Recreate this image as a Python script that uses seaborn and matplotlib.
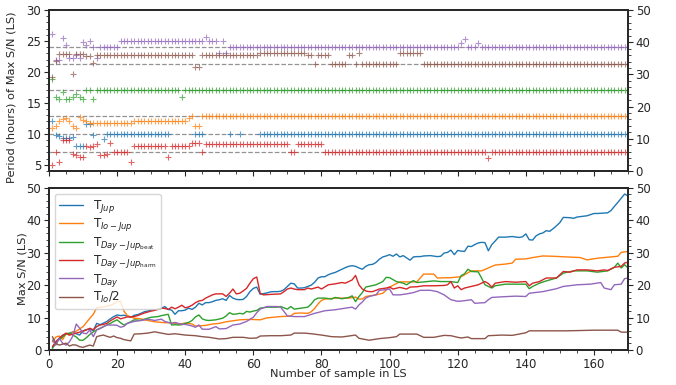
import numpy as np
import matplotlib
matplotlib.use("Agg")
import matplotlib.pyplot as plt
from matplotlib.ticker import AutoMinorLocator, MultipleLocator
import seaborn as sns

N = np.nan

# ---------------- data ----------------
sample = np.arange(1, 171)  # sample index in LS (1..170)

series_labels = [r'T$_{Jup}$', r'T$_{Io-Jup}$', r'T$_{Day-Jup_{\rm beat}}$',
                 r'T$_{Day-Jup_{\rm harm}}$', r'T$_{Day}$', r'T$_{Io}$/2']
ref_periods = [9.9, 12.9, 17.0, 7.0, 24.0, 21.3]   # dashed reference lines (hours)

# Period (hours) of max S/N, per sample 1..170
per_jup = [12.0, 9.8, 9.7, 9.4, 9.4, 9.4, 9.5, 8.1, 8.0, 8.0,
           11.6, 11.6, 9.8, N, N, 9.1, 9.9, 9.9, 9.9, 9.9,
           9.9, 9.9, 9.9, 9.9, 9.9, 9.9, 9.9, 9.9, 9.9, 9.9,
           9.9, 9.9, 9.9, 9.9, 9.9, N, N, N, N, N,
           N, N, 9.9, 9.9, 9.9, N, N, N, N, N,
           N, N, 9.9, N, N, 9.9, N, N, N, N,
           N, 9.9, 9.9, 9.9, 9.9, 9.9, 9.9, 9.9, 9.9, 9.9,
           9.9, 9.9, 9.9, 9.9, 9.9, 9.9, 9.9, 9.9, 9.9, 9.9,
           9.9, 9.9, 9.9, 9.9, 9.9, 9.9, 9.9, 9.9, 9.9, 9.9,
           9.9, 9.9, 9.9, 9.9, 9.9, 9.9, 9.9, 9.9, 9.9, 9.9,
           9.9, 9.9, 9.9, 9.9, 9.9, 9.9, 9.9, 9.9, 9.9, 9.9,
           9.9, 9.9, 9.9, 9.9, 9.9, 9.9, 9.9, 9.9, 9.9, 9.9,
           9.9, 9.9, 9.9, 9.9, 9.9, 9.9, 9.9, 9.9, 9.9, 9.9,
           9.9, 9.9, 9.9, 9.9, 9.9, 9.9, 9.9, 9.9, 9.9, 9.9,
           9.9, 9.9, 9.9, 9.9, 9.9, 9.9, 9.9, 9.9, 9.9, 9.9,
           9.9, 9.9, 9.9, 9.9, 9.9, 9.9, 9.9, 9.9, 9.9, 9.9,
           9.9, 9.9, 9.9, 9.9, 9.9, 9.9, 9.9, 9.9, 9.9, 9.9]

per_iojup = [10.9, 11.2, 12.1, 12.4, 12.6, 12.0, 11.2, 11.0, 12.7, 12.3,
             12.1, 11.7, 11.7, 11.7, 11.7, 11.7, 11.7, 11.7, 11.7, 11.7,
             11.7, 11.7, 11.7, 11.7, 12.1, 12.1, 12.1, 12.1, 12.1, 12.1,
             12.1, 12.1, 12.1, 12.1, 12.1, 12.1, 12.1, 12.1, 12.1, 12.1,
             12.5, 12.9, 11.2, 11.2, 12.9, 12.9, 12.9, 12.9, 12.9, 12.9,
             12.9, 12.9, 12.9, 12.9, 12.9, 12.9, 12.9, 12.9, 12.9, 12.9,
             12.9, 12.9, 12.9, 12.9, 12.9, 12.9, 12.9, 12.9, 12.9, 12.9,
             12.9, 12.9, 12.9, 12.9, 12.9, 12.9, 12.9, 12.9, 12.9, 12.9,
             12.9, 12.9, 12.9, 12.9, 12.9, 12.9, 12.9, 12.9, 12.9, 12.9,
             12.9, 12.9, 12.9, 12.9, 12.9, 12.9, 12.9, 12.9, 12.9, 12.9,
             12.9, 12.9, 12.9, 12.9, 12.9, 12.9, 12.9, 12.9, 12.9, 12.9,
             12.9, 12.9, 12.9, 12.9, 12.9, 12.9, 12.9, 12.9, 12.9, 12.9,
             12.9, 12.9, 12.9, 12.9, 12.9, 12.9, 12.9, 12.9, 12.9, 12.9,
             12.9, 12.9, 12.9, 12.9, 12.9, 12.9, 12.9, 12.9, 12.9, 12.9,
             12.9, 12.9, 12.9, 12.9, 12.9, 12.9, 12.9, 12.9, 12.9, 12.9,
             12.9, 12.9, 12.9, 12.9, 12.9, 12.9, 12.9, 12.9, 12.9, 12.9,
             12.9, 12.9, 12.9, 12.9, 12.9, 12.9, 12.9, 12.9, 12.9, 12.9]

per_beat = [18.9, 16.0, 15.6, 16.7, 15.6, 15.6, 16.0, 16.4, 16.0, 15.6,
            17.0, 17.0, 15.7, 17.0, 17.0, 17.0, 17.0, 17.0, 17.0, 17.0,
            17.0, 17.0, 17.0, 17.0, 17.0, 17.0, 17.0, 17.0, 17.0, 17.0,
            17.0, 17.0, 17.0, 17.0, 17.0, 17.0, 17.0, 17.0, 15.9, 17.0,
            17.0, 17.0, 17.0, 17.0, 17.0, 17.0, 17.0, 17.0, 17.0, 17.0,
            17.0, 17.0, 17.0, 17.0, 17.0, 17.0, 17.0, 17.0, 17.0, 17.0,
            17.0, 17.0, 17.0, 17.0, 17.0, 17.0, 17.0, 17.0, 17.0, 17.0,
            17.0, 17.0, 17.0, 17.0, 17.0, 17.0, 17.0, 17.0, 17.0, 17.0,
            17.0, 17.0, 17.0, 17.0, 17.0, 17.0, 17.0, 17.0, 17.0, 17.0,
            17.0, 17.0, 17.0, 17.0, 17.0, 17.0, 17.0, 17.0, 17.0, 17.0,
            17.0, 17.0, 17.0, 17.0, 17.0, 17.0, 17.0, 17.0, 17.0, 17.0,
            17.0, 17.0, 17.0, 17.0, 17.0, 17.0, 17.0, 17.0, 17.0, 17.0,
            17.0, 17.0, 17.0, 17.0, 17.0, 17.0, 17.0, 17.0, 17.0, 17.0,
            17.0, 17.0, 17.0, 17.0, 17.0, 17.0, 17.0, 17.0, 17.0, 17.0,
            17.0, 17.0, 17.0, 17.0, 17.0, 17.0, 17.0, 17.0, 17.0, 17.0,
            17.0, 17.0, 17.0, 17.0, 17.0, 17.0, 17.0, 17.0, 17.0, 17.0,
            17.0, 17.0, 17.0, 17.0, 17.0, 17.0, 17.0, 17.0, 17.0, 17.0]

per_harm = [5.0, 7.1, 5.5, 9.0, 9.0, 9.0, 6.7, 6.6, 6.2, 6.2,
            8.1, 7.8, 8.1, 8.4, 6.6, 6.6, 6.7, 8.5, 7.0, 7.0,
            7.0, 7.0, 7.0, 5.5, 8.1, 8.1, 8.1, 8.1, 8.1, 8.1,
            8.1, 8.1, 8.1, 8.1, 6.3, 8.1, 8.1, 8.1, 8.1, 8.1,
            8.1, 8.5, 8.5, 8.5, 7.0, 8.4, 8.4, 8.4, 8.4, 8.4,
            8.4, 8.4, 8.4, 8.4, 8.4, 8.4, 8.4, 8.4, 8.4, 8.4,
            8.4, 8.4, 8.4, 8.4, 8.4, 8.4, 8.4, 8.4, 8.4, 8.4,
            7.0, 7.0, 8.4, 8.4, 8.4, 8.4, 8.4, 8.4, 8.4, 8.4,
            7.0, 7.0, 7.0, 7.0, 7.0, 7.0, 7.0, 7.0, 7.0, 7.0,
            7.0, 7.0, 7.0, 7.0, 7.0, 7.0, 7.0, 7.0, 7.0, 7.0,
            7.0, 7.0, 7.0, 7.0, 7.0, 7.0, 7.0, 7.0, 7.0, 7.0,
            7.0, 7.0, 7.0, 7.0, 7.0, 7.0, 7.0, 7.0, 7.0, 7.0,
            7.0, 7.0, 7.0, 7.0, 7.0, 7.0, 7.0, 7.0, 6.1, 7.0,
            7.0, 7.0, 7.0, 7.0, 7.0, 7.0, 7.0, 7.0, 7.0, 7.0,
            7.0, 7.0, 7.0, 7.0, 7.0, 7.0, 7.0, 7.0, 7.0, 7.0,
            7.0, 7.0, 7.0, 7.0, 7.0, 7.0, 7.0, 7.0, 7.0, 7.0,
            7.0, 7.0, 7.0, 7.0, 7.0, 7.0, 7.0, 7.0, 7.0, 7.0]

per_day = [26.1, 21.9, 22.0, 25.4, 24.4, 22.2, 22.2, 22.7, 22.2, 24.9,
           24.4, 25.0, 24.0, 22.3, 24.0, 24.0, 24.0, 24.0, 24.0, 24.0,
           25.0, 25.0, 25.0, 25.0, 25.0, 25.0, 25.0, 25.0, 25.0, 25.0,
           25.0, 25.0, 25.0, 25.0, 25.0, 25.0, 25.0, 25.0, 25.0, 25.0,
           25.0, 25.0, 25.0, 25.0, 25.0, 25.7, 25.0, 25.0, 25.0, 23.0,
           25.0, 23.0, 24.0, 24.0, 24.0, 24.0, 24.0, 24.0, 24.0, 24.0,
           24.0, 24.0, 24.0, 24.0, 24.0, 24.0, 24.0, 24.0, 24.0, 24.0,
           24.0, 24.0, 24.0, 24.0, 24.0, 24.0, 24.0, 24.0, 24.0, 24.0,
           24.0, 24.0, 24.0, 24.0, 24.0, 24.0, 24.0, 24.0, 24.0, 24.0,
           24.0, 24.0, 24.0, 24.0, 24.0, 24.0, 24.0, 24.0, 24.0, 24.0,
           24.0, 24.0, 24.0, 24.0, 24.0, 24.0, 24.0, 24.0, 24.0, 24.0,
           24.0, 24.0, 24.0, 24.0, 24.0, 24.0, 24.0, 24.0, 24.0, 24.0,
           24.7, 25.3, 24.0, 24.0, 24.0, 24.7, 24.0, 24.0, 24.0, 24.0,
           24.0, 24.0, 24.0, 24.0, 24.0, 24.0, 24.0, 24.0, 24.0, 24.0,
           24.0, 24.0, 24.0, 24.0, 24.0, 24.0, 24.0, 24.0, 24.0, 24.0,
           24.0, 24.0, 24.0, 24.0, 24.0, 24.0, 24.0, 24.0, 24.0, 24.0,
           24.0, 24.0, 24.0, 24.0, 24.0, 24.0, 24.0, 24.0, 24.0, 24.0]

per_io2 = [19.2, 21.7, 22.9, 22.9, 22.9, 22.9, 19.7, 22.9, 22.9, 22.9,
           22.6, 22.6, 21.4, 22.7, 22.7, 22.7, 22.7, 22.7, 22.7, 22.7,
           22.7, 22.7, 22.7, 22.7, 22.7, 22.7, 22.7, 22.7, 22.7, 22.7,
           22.7, 22.7, 22.7, 22.7, 22.7, 22.7, 22.7, 22.7, 22.7, 22.7,
           22.7, 22.7, 20.8, 20.8, 22.7, 22.7, 22.7, 22.7, 22.7, 22.7,
           22.7, 22.7, 22.7, 22.7, 22.7, 22.7, 22.7, 22.7, 22.7, 22.7,
           22.7, 23.1, 23.1, 23.1, 23.1, 23.1, 23.1, 23.1, 23.1, 23.1,
           23.1, 23.1, 23.1, 23.1, 23.1, 22.7, 22.7, 21.3, 22.7, 22.7,
           22.7, 22.7, 21.3, 21.3, 21.3, 21.3, 21.3, 22.7, 22.7, 21.3,
           23.1, 21.3, 21.3, 21.3, 21.3, 21.3, 21.3, 21.3, 21.3, 21.3,
           21.3, 21.3, 23.1, 23.1, 23.1, 23.1, 23.1, 23.1, 23.1, 21.3,
           21.3, 21.3, 21.3, 21.3, 21.3, 21.3, 21.3, 21.3, 21.3, 21.3,
           21.3, 21.3, 21.3, 21.3, 21.3, 21.3, 21.3, 21.3, 21.3, 21.3,
           21.3, 21.3, 21.3, 21.3, 21.3, 21.3, 21.3, 21.3, 21.3, 21.3,
           21.3, 21.3, 21.3, 21.3, 21.3, 21.3, 21.3, 21.3, 21.3, 21.3,
           21.3, 21.3, 21.3, 21.3, 21.3, 21.3, 21.3, 21.3, 21.3, 21.3,
           21.3, 21.3, 21.3, 21.3, 21.3, 21.3, 21.3, 21.3, 21.3, 21.3]

# Max S/N (LS) as (sample, value) vertices
sn_jup = [(1, 0.8), (2, 2.5), (3, 3.6), (4, 4.5), (6, 5.1), (7, 5.6), (8, 5.0), (9, 4.6),
          (10, 5.9), (11, 6.3), (12, 6.4), (13, 6.0), (14, 8.2), (15, 7.8), (16, 8.3),
          (17, 8.8), (18, 9.6), (19, 10.3), (20, 10.8), (21, 10.6), (22, 10.7), (23, 10.5),
          (24, 10.0), (25, 10.7), (26, 10.9), (27, 11.3), (28, 11.8), (29, 12.0), (30, 12.3),
          (31, 12.4), (32, 12.5), (33, 12.8), (34, 13.4), (35, 12.5), (36, 12.3), (37, 11.0),
          (38, 12.1), (39, 12.1), (40, 12.3), (41, 12.9), (42, 12.5), (43, 13.2), (44, 14.4),
          (45, 13.9), (46, 14.6), (47, 14.6), (48, 14.9), (49, 15.3), (50, 15.5), (51, 15.8),
          (52, 15.3), (53, 16.8), (54, 16.0), (55, 15.6), (56, 15.5), (57, 15.6), (58, 16.5),
          (59, 18.0), (60, 19.0), (61, 19.4), (62, 17.2), (63, 17.4), (64, 17.6), (65, 17.9),
          (66, 18.0), (67, 18.0), (68, 18.1), (69, 18.6), (70, 19.6), (71, 20.6), (72, 20.4),
          (73, 19.1), (74, 19.1), (75, 19.2), (76, 19.6), (77, 20.0), (78, 20.9), (79, 22.2),
          (80, 22.6), (81, 22.6), (82, 23.2), (83, 23.6), (84, 23.9), (85, 24.4), (86, 24.9),
          (87, 25.4), (88, 25.8), (89, 26.0), (90, 25.8), (91, 25.3), (92, 24.9), (93, 25.8),
          (94, 26.3), (95, 26.4), (96, 27.0), (97, 28.0), (98, 28.7), (99, 29.0), (100, 29.4),
          (101, 28.9), (102, 29.6), (103, 28.7), (104, 29.1), (105, 28.4), (106, 27.7),
          (107, 28.7), (108, 28.8), (109, 28.8), (110, 29.0), (112, 29.1), (114, 28.8),
          (115, 28.9), (116, 29.9), (117, 30.1), (118, 30.8), (119, 29.4), (120, 30.7),
          (121, 30.5), (122, 30.4), (123, 32.0), (124, 31.9), (125, 32.5), (126, 33.0),
          (127, 33.2), (128, 33.1), (129, 30.6), (130, 32.5), (131, 33.6), (132, 34.8),
          (134, 34.8), (136, 35.0), (138, 34.7), (139, 34.9), (140, 35.8), (141, 34.0),
          (142, 33.9), (143, 35.2), (144, 35.8), (145, 36.1), (146, 36.8), (147, 36.6),
          (148, 37.4), (149, 38.3), (150, 39.3), (151, 40.9), (153, 40.8), (154, 40.6),
          (155, 41.0), (158, 41.4), (160, 42.1), (161, 42.1), (164, 42.3), (165, 43.0),
          (166, 44.3), (167, 45.5), (168, 46.8), (169, 48.1), (170, 47.5)]

sn_iojup = [(1, 2.5), (2, 4.0), (3, 4.3), (4, 3.2), (5, 5.0), (6, 4.6), (7, 5.5), (8, 5.8),
            (9, 6.5), (10, 7.2), (11, 8.5), (12, 9.8), (13, 11.0), (14, 13.0), (15, 13.2),
            (16, 13.3), (17, 13.5), (18, 13.8), (19, 14.2), (20, 15.0), (21, 15.0), (22, 12.0),
            (23, 10.6), (24, 10.2), (25, 9.8), (26, 9.7), (27, 9.6), (28, 9.3), (29, 9.1),
            (30, 8.9), (31, 8.7), (32, 8.6), (33, 8.5), (34, 8.4), (35, 8.4), (36, 8.3),
            (37, 8.2), (38, 8.0), (39, 8.1), (40, 8.3), (41, 8.2), (42, 8.0), (43, 7.4),
            (44, 7.4), (45, 7.5), (46, 7.6), (48, 8.0), (50, 8.2), (52, 8.7), (54, 9.0),
            (56, 9.3), (58, 9.4), (60, 9.4), (62, 9.3), (64, 9.9), (66, 10.1), (68, 10.3),
            (70, 10.4), (71, 10.5), (72, 11.3), (74, 11.4), (76, 11.3), (77, 11.8), (78, 12.8),
            (79, 14.2), (80, 15.3), (81, 15.7), (84, 16.0), (88, 16.0), (90, 16.3), (91, 15.7),
            (92, 15.7), (93, 16.5), (96, 17.0), (98, 17.5), (100, 19.4), (103, 21.0),
            (108, 21.0), (110, 23.4), (113, 23.4), (114, 22.2), (118, 22.3), (121, 22.6),
            (122, 23.2), (124, 24.4), (127, 24.4), (129, 25.3), (131, 26.2), (134, 26.5),
            (136, 26.8), (137, 28.0), (140, 28.1), (142, 28.5), (145, 29.0), (148, 28.9),
            (152, 28.7), (156, 28.5), (158, 27.8), (161, 28.3), (164, 28.6), (167, 28.9),
            (168, 30.1), (170, 30.4)]

sn_beat = [(1, 0.5), (2, 2.0), (3, 3.3), (4, 4.0), (5, 5.0), (6, 5.2), (7, 4.6), (8, 4.0),
           (9, 3.0), (10, 3.0), (11, 3.8), (12, 4.8), (13, 5.6), (14, 6.2), (15, 6.7),
           (16, 7.2), (17, 7.7), (18, 8.2), (19, 8.8), (20, 9.3), (21, 8.4), (22, 7.7),
           (23, 8.2), (24, 8.7), (25, 9.3), (26, 9.2), (27, 9.1), (28, 9.5), (29, 9.8),
           (30, 10.1), (31, 10.2), (32, 10.3), (33, 10.6), (34, 10.8), (35, 11.0), (36, 7.7),
           (37, 7.8), (38, 7.7), (39, 7.8), (40, 8.2), (41, 8.5), (42, 9.1), (43, 10.2),
           (44, 10.8), (45, 9.6), (46, 9.2), (47, 9.1), (49, 9.3), (51, 9.8), (52, 10.5),
           (53, 11.5), (54, 11.0), (55, 11.1), (56, 11.3), (57, 11.1), (58, 11.9), (59, 11.7),
           (60, 12.0), (61, 12.2), (62, 12.9), (64, 13.2), (67, 13.2), (68, 13.4), (70, 12.6),
           (71, 13.4), (72, 12.6), (74, 12.9), (76, 13.2), (77, 14.2), (78, 15.5), (79, 16.0),
           (81, 16.0), (83, 15.7), (84, 16.2), (86, 15.8), (88, 16.2), (89, 16.7), (90, 14.9),
           (91, 16.5), (92, 17.7), (93, 19.4), (96, 20.1), (98, 21.1), (99, 22.4), (100, 22.3),
           (102, 21.1), (104, 20.6), (105, 20.1), (106, 20.8), (107, 21.4), (108, 20.8),
           (111, 21.1), (113, 21.3), (115, 21.1), (118, 21.1), (120, 20.8), (121, 22.9),
           (122, 23.5), (123, 24.9), (124, 24.2), (126, 24.1), (127, 22.2), (128, 20.1),
           (130, 19.1), (131, 19.8), (134, 20.3), (137, 20.3), (140, 20.3), (141, 18.9),
           (142, 19.6), (144, 20.6), (146, 21.3), (149, 22.2), (151, 23.7), (154, 24.4),
           (158, 24.4), (161, 24.0), (164, 24.4), (166, 25.5), (167, 26.8), (168, 25.3),
           (169, 26.3), (170, 25.3)]

sn_harm = [(1, 1.0), (2, 2.5), (3, 3.6), (4, 4.5), (5, 5.2), (6, 4.6), (7, 4.9), (8, 5.2),
           (9, 5.5), (10, 5.8), (11, 6.2), (12, 6.7), (13, 6.2), (14, 7.2), (15, 7.7),
           (16, 7.9), (17, 8.2), (18, 9.0), (19, 9.6), (20, 10.2), (21, 9.6), (22, 9.9),
           (23, 10.2), (24, 10.2), (25, 10.3), (26, 10.6), (27, 11.0), (28, 11.4), (29, 11.7),
           (30, 12.0), (31, 12.2), (32, 12.6), (33, 12.9), (34, 12.8), (35, 12.5), (36, 13.2),
           (37, 12.7), (38, 13.2), (39, 13.8), (40, 13.0), (41, 13.3), (42, 13.8), (43, 14.6),
           (44, 15.1), (45, 15.3), (46, 16.0), (47, 16.5), (48, 17.0), (49, 17.3), (51, 17.3),
           (52, 16.5), (53, 17.5), (54, 18.8), (55, 17.3), (56, 17.5), (57, 18.2), (58, 19.0),
           (59, 20.6), (60, 22.0), (61, 22.5), (62, 17.5), (63, 17.0), (66, 17.2), (68, 17.3),
           (69, 18.0), (70, 18.8), (71, 19.1), (72, 18.8), (73, 18.6), (75, 18.6), (76, 19.1),
           (77, 18.8), (79, 19.4), (80, 18.8), (82, 20.1), (84, 20.4), (86, 20.8), (87, 20.6),
           (89, 21.6), (90, 23.0), (91, 20.1), (92, 18.8), (93, 18.2), (94, 18.0), (95, 18.0),
           (97, 18.8), (99, 19.1), (100, 19.4), (101, 18.8), (103, 19.3), (105, 18.8),
           (106, 19.4), (108, 19.5), (110, 19.8), (113, 19.8), (116, 19.9), (117, 20.1),
           (118, 21.1), (119, 19.1), (120, 19.8), (121, 18.6), (122, 19.1), (124, 19.6),
           (126, 20.1), (128, 21.1), (129, 20.5), (130, 19.4), (131, 20.6), (134, 21.1),
           (137, 20.9), (140, 21.1), (141, 19.8), (142, 20.6), (144, 21.1), (146, 22.2),
           (149, 22.2), (151, 24.2), (153, 24.0), (155, 24.7), (158, 24.7), (161, 24.4),
           (163, 24.7), (164, 24.5), (166, 25.5), (168, 25.8), (169, 26.8), (170, 27.1)]

sn_day = [(1, 3.1), (2, 1.5), (3, 3.6), (4, 2.1), (5, 1.5), (6, 2.5), (7, 4.3), (8, 8.0),
          (9, 6.7), (10, 5.2), (11, 5.0), (12, 6.2), (13, 4.1), (14, 6.2), (15, 6.6),
          (16, 7.2), (17, 7.7), (18, 7.7), (19, 7.7), (20, 7.6), (21, 7.0), (22, 7.3),
          (23, 8.2), (24, 8.5), (25, 8.8), (27, 9.1), (29, 9.5), (31, 9.1), (33, 9.5),
          (34, 8.8), (36, 8.2), (37, 8.5), (39, 7.9), (40, 7.9), (42, 7.4), (43, 7.0),
          (44, 7.7), (45, 6.4), (47, 6.4), (49, 7.2), (50, 6.5), (52, 6.6), (54, 7.7),
          (56, 8.0), (58, 8.8), (60, 10.1), (61, 11.5), (62, 12.6), (64, 13.4), (67, 13.4),
          (68, 13.2), (70, 10.5), (72, 10.3), (75, 10.3), (78, 11.3), (81, 12.1), (84, 12.4),
          (87, 12.9), (89, 13.2), (90, 12.6), (91, 13.9), (92, 14.8), (93, 16.0), (94, 16.5),
          (96, 17.0), (97, 18.4), (99, 18.6), (100, 18.8), (101, 17.0), (103, 17.0),
          (105, 17.3), (107, 17.7), (109, 18.4), (112, 18.4), (114, 18.0), (116, 17.0),
          (118, 15.5), (120, 15.0), (122, 15.2), (124, 15.5), (125, 14.4), (128, 14.6),
          (129, 15.5), (130, 16.2), (133, 16.4), (137, 16.6), (140, 16.5), (141, 17.5),
          (145, 18.0), (149, 18.9), (151, 19.6), (155, 20.1), (159, 20.3), (162, 20.8),
          (163, 19.1), (165, 18.6), (166, 20.1), (168, 20.3), (169, 22.0), (170, 22.2)]

sn_io2 = [(1, 4.1), (2, 2.0), (3, 1.5), (4, 1.8), (5, 2.1), (6, 1.2), (7, 1.6), (8, 1.5),
          (9, 1.0), (10, 0.8), (11, 1.2), (12, 1.5), (13, 1.2), (14, 4.1), (15, 4.4),
          (16, 4.6), (17, 4.2), (18, 3.9), (19, 4.3), (20, 3.8), (21, 3.6), (22, 3.2),
          (23, 3.0), (24, 2.8), (25, 4.9), (27, 5.0), (29, 5.2), (31, 5.6), (33, 5.2),
          (35, 4.8), (37, 5.0), (40, 4.6), (43, 4.4), (45, 4.1), (47, 3.9), (50, 3.4),
          (52, 3.5), (54, 3.9), (57, 3.9), (59, 3.6), (61, 3.7), (62, 4.3), (65, 4.4),
          (68, 4.4), (71, 4.6), (72, 5.2), (75, 5.2), (77, 5.0), (80, 4.6), (83, 4.1),
          (86, 4.0), (88, 4.3), (90, 4.6), (91, 3.6), (94, 3.0), (97, 3.5), (100, 3.8),
          (102, 4.1), (103, 4.9), (108, 4.9), (110, 3.9), (113, 3.9), (116, 4.5), (118, 4.4),
          (120, 3.9), (121, 3.7), (123, 4.0), (124, 3.5), (128, 3.5), (129, 4.4), (133, 4.6),
          (136, 4.5), (138, 4.9), (140, 5.3), (141, 5.9), (152, 5.9), (160, 6.1), (167, 6.1),
          (168, 5.5), (170, 5.5)]

# ---------------- plotting ----------------
sns.set_theme(style="ticks")
plt.rcParams['font.family'] = ['DejaVu Sans']
plt.rcParams['mathtext.fontset'] = 'dejavusans'

colors = sns.color_palette("tab10", 6)
periods = [per_jup, per_iojup, per_beat, per_harm, per_day, per_io2]
sn_series = [sn_jup, sn_iojup, sn_beat, sn_harm, sn_day, sn_io2]

fig = plt.figure(figsize=(6.76, 3.85), dpi=100)
ax_top = fig.add_axes([0.0725, 0.556, 0.8565, 0.418])
ax_bot = fig.add_axes([0.0725, 0.091, 0.8565, 0.421], sharex=ax_top)

tick_fs = 8.5
label_fs = 8.2

# top panel: periods
for ref in ref_periods:
    ax_top.axhline(ref, color='gray', ls='--', lw=0.9, alpha=0.85, zorder=1)
for per, c in zip(periods, colors):
    sns.scatterplot(x=sample, y=per, ax=ax_top, marker='+', color=c, s=14,
                    linewidth=0.8, alpha=0.7, legend=False, zorder=2)
ax_top.set_ylim(4, 30)
ax_top.yaxis.set_major_locator(MultipleLocator(5))
ax_top.yaxis.set_minor_locator(AutoMinorLocator())
ax_top.set_ylabel('Period (hours) of Max S/N (LS)', fontsize=label_fs)
ax_top.yaxis.set_label_coords(-0.057, 0.455)
ax_top.tick_params(axis='x', labelbottom=False)
ax_top.set_xlabel('')

ax_top_r = ax_top.twinx()
ax_top_r.set_ylim(0, 50)
ax_top_r.yaxis.set_major_locator(MultipleLocator(10))
ax_top_r.yaxis.set_minor_locator(AutoMinorLocator())

# bottom panel: max S/N
for sn, c, lab in zip(sn_series, colors, series_labels):
    xs = [p[0] for p in sn]
    ys = [p[1] for p in sn]
    sns.lineplot(x=xs, y=ys, ax=ax_bot, color=c, label=lab, lw=1.0,
                 estimator=None, sort=False)
ax_bot.set_ylim(0, 50)
ax_bot.set_xlim(0, 170)
ax_bot.yaxis.set_major_locator(MultipleLocator(10))
ax_bot.yaxis.set_minor_locator(AutoMinorLocator())
ax_bot.xaxis.set_major_locator(MultipleLocator(20))
ax_bot.xaxis.set_minor_locator(AutoMinorLocator())
ax_bot.set_ylabel('Max S/N (LS)', fontsize=label_fs)
ax_bot.yaxis.set_label_coords(-0.038, 0.5)
ax_bot.set_xlabel('Number of sample in LS', fontsize=label_fs)
ax_bot.xaxis.set_label_coords(0.5, -0.118)
leg = ax_bot.legend(loc='upper left', fontsize=8.6, frameon=True, fancybox=True,
                    borderaxespad=0.5, labelspacing=0.12, handlelength=2.0,
                    borderpad=0.35, framealpha=0.8)

ax_bot_r = ax_bot.twinx()
ax_bot_r.set_ylim(0, 50)
ax_bot_r.yaxis.set_major_locator(MultipleLocator(10))
ax_bot_r.yaxis.set_minor_locator(AutoMinorLocator())

for a in (ax_top, ax_bot, ax_top_r, ax_bot_r):
    a.tick_params(labelsize=tick_fs, length=3.5, width=0.8, pad=2)
    a.tick_params(which='minor', length=2, width=0.6)

fig.savefig('out.png', dpi=100)
